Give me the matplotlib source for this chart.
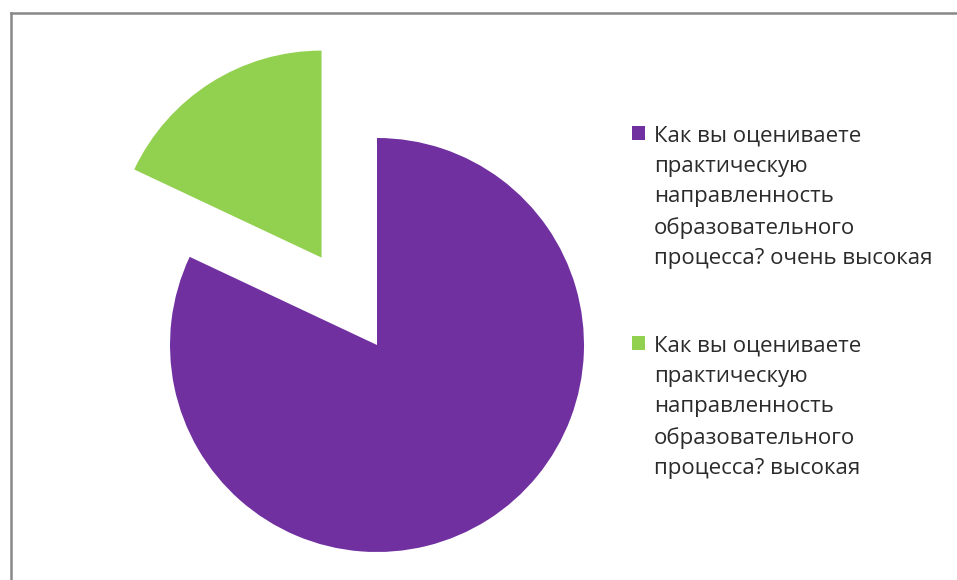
import matplotlib.pyplot as plt
from matplotlib.patches import Rectangle

labels = [
    "Как вы оцениваете\nпрактическую\nнаправленность\nобразовательного\nпроцесса? очень высокая",
    "Как вы оцениваете\nпрактическую\nнаправленность\nобразовательного\nпроцесса? высокая",
]
values = [82, 18]
colors = ["#7030A0", "#92D050"]
explode = [0, 0.5]

plt.rcParams["font.family"] = ["Open Sans", "DejaVu Sans"]

fig = plt.figure(figsize=(9.57, 5.80), dpi=100)
W, H = 957, 580

# pie axes: centre (377, 345) px, radius 207 px
r = 207
ax = fig.add_axes([(377 - r) / W, (H - 345 - r) / H, 2 * r / W, 2 * r / H])
wedges, _ = ax.pie(values, colors=colors, explode=explode, startangle=90,
                   counterclock=False, radius=1)
for w in wedges:
    w.set_clip_on(False)
ax.set_xlim(-1, 1)
ax.set_ylim(-1, 1)
ax.set_aspect("equal")
ax.axis("off")

# legend drawn by hand: square + wrapped label, top of each entry in px
entry_tops = [126, 336]
for top, lab, c in zip(entry_tops, labels, colors):
    fig.add_artist(Rectangle((632 / W, 1 - (top + 14) / H), 13 / W, 14 / H,
                             transform=fig.transFigure, facecolor=c,
                             edgecolor="none"))
    fig.text(654 / W, 1 - top / H, lab, ha="left", va="top", fontsize=16,
             color="#2b2b2b", linespacing=1.57)

# grey frame along top and left
fig.add_artist(plt.Line2D([11 / W, 11 / W], [0, 1 - 13 / H], color="#888888", lw=1.8))
fig.add_artist(plt.Line2D([11 / W, 1], [1 - 13 / H, 1 - 13 / H], color="#888888", lw=1.8))

fig.savefig("out.png", dpi=100)
